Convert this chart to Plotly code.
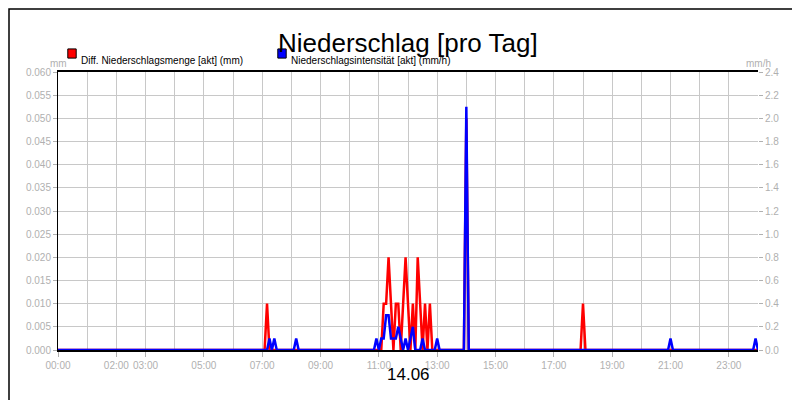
import plotly.graph_objects as go

def hm(s):
    h, m = s.split(":")
    return int(h) + int(m) / 60

red_t = ["0:00","7:05","7:10","7:15","11:05","11:10","11:15","11:20","11:25","11:30","11:35","11:40","11:45","11:50","11:55","12:00","12:05","12:10","12:15","12:20","12:25","12:30","12:35","12:40","12:45","12:50","13:55","14:00","14:05","17:55","18:00","18:05","24:00"]
red_v = [0,0,0.01,0,0,0.01,0.01,0.02,0.01,0,0.01,0.01,0,0.01,0.02,0.01,0,0.01,0,0.02,0.01,0,0.01,0,0.01,0,0,0.05,0,0,0.01,0,0]
blue_t = ["0:00","7:10","7:15","7:20","7:25","7:30","8:05","8:10","8:15","10:50","10:55","11:00","11:05","11:10","11:15","11:20","11:25","11:30","11:35","11:40","11:45","11:50","11:55","12:00","12:05","12:10","12:15","12:25","12:30","12:35","12:55","13:00","13:05","13:55","14:00","14:05","20:55","21:00","21:05","23:50","23:55","24:00"]
blue_v = [0,0,0.1,0,0.1,0,0,0.1,0,0,0.1,0,0.1,0.1,0.3,0.3,0.1,0.1,0.1,0.2,0.1,0,0.1,0,0.1,0.2,0,0,0.1,0,0,0.1,0,0,2.1,0,0,0.1,0,0,0.1,0]
tick_vals = [0,2,3,5,7,9,11,13,15,17,19,21,23]
tick_text = ["00:00","02:00","03:00","05:00","07:00","09:00","11:00","13:00","15:00","17:00","19:00","21:00","23:00"]
left_ticks = [i*0.005 for i in range(13)]
right_ticks = [i*0.2 for i in range(13)]

fig = go.Figure()
fig.add_trace(go.Scatter(x=[hm(t) for t in blue_t], y=blue_v, yaxis="y2", mode="lines",
                         line=dict(color="#0000ff", width=2.5), name="Niederschlagsintensität [akt] (mm/h)"))
fig.add_trace(go.Scatter(x=[hm(t) for t in red_t], y=red_v, mode="lines",
                         line=dict(color="#ff0000", width=2.5), name="Diff. Niederschlagsmenge [akt] (mm)"))
gray = "#b0b0b0"
fig.update_layout(
    width=800, height=400, paper_bgcolor="white", plot_bgcolor="white",
    margin=dict(l=50, r=50, t=64, b=58, autoexpand=False), showlegend=False,
    font=dict(family="Liberation Sans, Arial", size=10, color=gray),
    xaxis=dict(range=[0,24], tickvals=tick_vals, ticktext=tick_text, showgrid=False, tickangle=0,
               automargin=False, tickfont=dict(size=10),
               ticks="outside", ticklen=5, tickcolor=gray, showline=True, linecolor="black", linewidth=2, mirror=True,
               minor=dict(dtick=1, tick0=0, showgrid=True, gridcolor="#c8c8c8", ticks="")),
    yaxis=dict(range=[0,0.06], tickvals=left_ticks, ticktext=[f"{v:.3f}" for v in left_ticks], automargin=False,
               gridcolor="#c8c8c8", showline=True, linecolor="black", linewidth=1, zeroline=False,
               ticks="outside", ticklen=4, tickcolor=gray),
    yaxis2=dict(range=[0,2.4], overlaying="y", side="right", tickvals=right_ticks, automargin=False,
                ticktext=[f"{v:.1f}" for v in right_ticks], showgrid=False, zeroline=False,
                ticks="outside", ticklen=4, tickcolor=gray),
)
fig.add_annotation(text="Niederschlag [pro Tag]", x=0.5, y=1, xref="paper", yref="paper", yshift=46,
                   showarrow=False, font=dict(size=26, color="black"))
fig.add_annotation(text="14.06", x=0.5, y=0, xref="paper", yref="paper", yshift=-36,
                   showarrow=False, font=dict(size=17, color="black"))
fig.add_annotation(text="mm", xref="paper", yref="paper", x=-0.014, y=1.058, showarrow=False, font=dict(size=10))
fig.add_annotation(text="mm/h", xref="paper", yref="paper", x=1.022, y=1.058, showarrow=False, font=dict(size=10))
# legend
fig.add_shape(type="rect", xref="paper", yref="paper", x0=0.014, x1=0.026, y0=1.05, y1=1.083,
              fillcolor="#ff0000", line=dict(color="black", width=1))
fig.add_annotation(text="Diff. Niederschlagsmenge [akt] (mm)", xref="paper", yref="paper", x=0.03, y=1.068,
                   xanchor="left", showarrow=False, font=dict(size=10, color="black"))
fig.add_shape(type="rect", xref="paper", yref="paper", x0=0.314, x1=0.326, y0=1.05, y1=1.083,
              fillcolor="#0000ff", line=dict(color="black", width=1))
fig.add_annotation(text="Niederschlagsintensität [akt] (mm/h)", xref="paper", yref="paper", x=0.33, y=1.068,
                   xanchor="left", showarrow=False, font=dict(size=10, color="black"))
# frame
fig.add_shape(type="rect", xref="paper", yref="paper", x0=-0.07, x1=1.07, y0=-0.205, y1=1.227,
              line=dict(color="black", width=1.5))
fig.write_html("out.html")
